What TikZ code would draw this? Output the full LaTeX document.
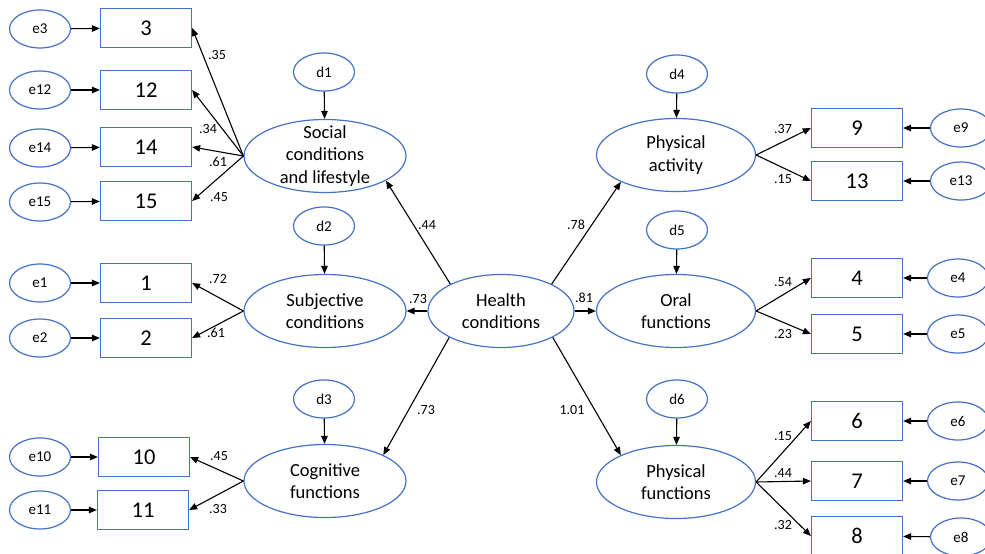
\documentclass[tikz,border=0pt]{standalone}
\usepackage{fontspec}
\setmainfont{Carlito}
\usetikzlibrary{shapes.geometric,arrows.meta}
\definecolor{eblue}{HTML}{4472C4}
\begin{document}
\begin{tikzpicture}[x=1pt,y=-1pt,
 lat/.style={ellipse,draw=eblue,line width=1.2pt,minimum width=162pt,minimum height=73pt,inner sep=0pt},
 lattext/.style={align=center,inner sep=0pt,font=\fontsize{18.5}{22.5}\selectfont},
 err/.style={ellipse,draw=eblue,line width=1.2pt,minimum width=61pt,minimum height=38pt,inner sep=0pt,font=\fontsize{15}{17}\selectfont},
 obs/.style={rectangle,draw=eblue,line width=1.2pt,minimum width=91pt,minimum height=39pt,inner sep=0pt,font=\fontsize{22.5}{24}\selectfont},
 coef/.style={inner sep=0pt,font=\fontsize{14}{16}\selectfont},
 arr/.style={-{Triangle[length=8pt,width=6.5pt]},line width=1.1pt}]
\useasboundingbox (0,0) rectangle (985,554);
% latent
\node[lat,label={[lattext]center:Social\\conditions\\and lifestyle}] (soc) at (325,156) {};
\node[lat,label={[lattext]center:Subjective\\conditions}] (subj) at (325,311) {};
\node[lat,label={[lattext]center:Cognitive\\functions}] (cog) at (325,481) {};
\node[lat,minimum width=146pt,label={[lattext]center:Health\\conditions}] (hc) at (501,311) {};
\node[lat,minimum width=159pt,label={[lattext]center:Physical\\activity}] (pa) at (676,155) {};
\node[lat,minimum width=159pt,label={[lattext]center:Oral\\functions}] (oral) at (676,311) {};
\node[lat,minimum width=159pt,label={[lattext]center:Physical\\functions}] (pf) at (676,482) {};
% disturbances
\node[err] (d1) at (324,72) {d1};
\node[err] (d2) at (324,226) {d2};
\node[err] (d3) at (324,399) {d3};
\node[err] (d4) at (677,74) {d4};
\node[err] (d5) at (677,230) {d5};
\node[err] (d6) at (677,399) {d6};
% left boxes and errors
\node[obs] (b3) at (146,28) {3};
\node[obs] (b12) at (146,90) {12};
\node[obs] (b14) at (146,147) {14};
\node[obs] (b15) at (146,201) {15};
\node[obs] (b1) at (146,283) {1};
\node[obs] (b2) at (146,338) {2};
\node[obs] (b10) at (144,457) {10};
\node[obs] (b11) at (143,510) {11};
\node[err] (e3) at (40,29) {e3};
\node[err] (e12) at (40,90) {e12};
\node[err] (e14) at (40,148) {e14};
\node[err] (e15) at (40,202) {e15};
\node[err] (e1) at (40,283) {e1};
\node[err] (e2) at (40,338) {e2};
\node[err] (e10) at (40,457) {e10};
\node[err] (e11) at (40,510) {e11};
% right boxes and errors
\node[obs] (b9) at (857,128) {9};
\node[obs] (b13) at (857,181) {13};
\node[obs] (b4) at (857,278) {4};
\node[obs] (b5) at (857,334) {5};
\node[obs] (b6) at (857,421) {6};
\node[obs] (b7) at (857,481) {7};
\node[obs] (b8) at (857,536) {8};
\node[err] (e9) at (961,128) {e9};
\node[err] (e13) at (961,181) {e13};
\node[err] (e4) at (958,278) {e4};
\node[err] (e5) at (958,334) {e5};
\node[err] (e6) at (958,421) {e6};
\node[err] (e7) at (958,481) {e7};
\node[err] (e8) at (961,537) {e8};
% disturbance arrows
\foreach \a/\b in {d1/soc,d2/subj,d3/cog,d4/pa,d5/oral,d6/pf} \draw[arr] (\a) -- (\b);
% error arrows
\foreach \a/\b in {e3/b3,e12/b12,e14/b14,e15/b15,e1/b1,e2/b2,e10/b10,e11/b11,e9/b9,e13/b13,e4/b4,e5/b5,e6/b6,e7/b7,e8/b8} \draw[arr] (\a) -- (\b);
% loadings left
\foreach \b in {b3,b12,b14,b15} \draw[arr] (soc.west) -- (\b.east);
\foreach \b in {b1,b2} \draw[arr] (subj.west) -- (\b.east);
\foreach \b in {b10,b11} \draw[arr] (cog.west) -- (\b.east);
% loadings right
\foreach \b in {b9,b13} \draw[arr] (pa.east) -- (\b.west);
\foreach \b in {b4,b5} \draw[arr] (oral.east) -- (\b.west);
\foreach \b in {b6,b7,b8} \draw[arr] (pf.east) -- (\b.west);
% structural
\draw[arr] (hc.west) -- (subj.east);
\draw[arr] (hc.east) -- (oral.west);
\draw[arr] (hc.152) -- (soc.-22);
\draw[arr] (hc.207) -- (cog.24);
\draw[arr] (hc.28) -- (pa.206);
\draw[arr] (hc.333) -- (pf.154);
% coefficients
\node[coef] (c1) at (217,55) {.35};
\node[coef] (c2) at (208,129) {.34};
\node[coef] (c3) at (218,162) {.61};
\node[coef] (c4) at (219,197) {.45};
\node[coef] (c5) at (218,279) {.72};
\node[coef] (c6) at (216,333) {.61};
\node[coef] (c7) at (219,456) {.45};
\node[coef] (c8) at (218,509) {.33};
\node[coef] (c9) at (427,225) {.44};
\node[coef] (c10) at (418,299) {.73};
\node[coef] (c11) at (426,410) {.73};
\node[coef] (c12) at (576,225) {.78};
\node[coef] (c13) at (584,298) {.81};
\node[coef] (c14) at (572,410) {1.01};
\node[coef] (c15) at (783,129) {.37};
\node[coef] (c16) at (783,179) {.15};
\node[coef] (c17) at (783,282) {.54};
\node[coef] (c18) at (783,334) {.23};
\node[coef] (c19) at (783,436) {.15};
\node[coef] (c20) at (783,473) {.44};
\node[coef] (c21) at (783,525) {.32};
\end{tikzpicture}
\end{document}
